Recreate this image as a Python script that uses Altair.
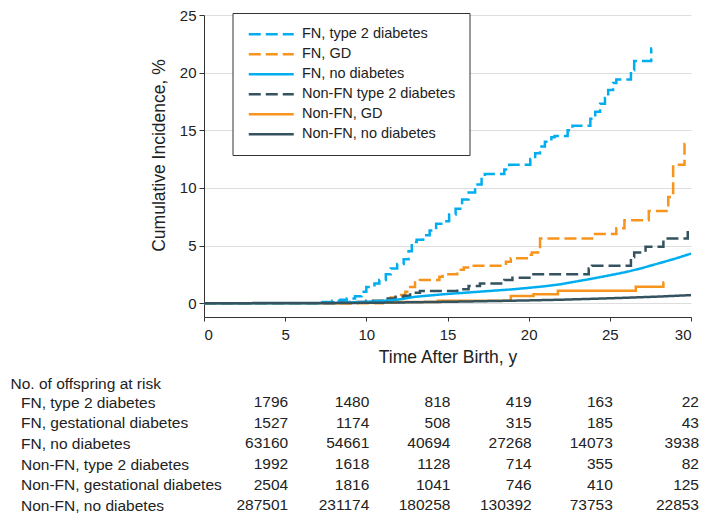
import altair as alt
import pandas as pd

FONT = "Liberation Sans, Arial, sans-serif"

series_names = [
    "FN, type 2 diabetes",
    "FN, GD",
    "FN, no diabetes",
    "Non-FN type 2 diabetes",
    "Non-FN, GD",
    "Non-FN, no diabetes",
]
series_colors = ["#00AEEF", "#F7941D", "#00AEEF", "#35525F", "#F7941D", "#35525F"]
series_dashes = [[12, 5], [12, 5], [1, 0], [12, 5], [1, 0], [1, 0]]

# FN, type 2 diabetes (step curve)
fn_t2_t = [0, 7.3, 7.9, 8.4, 8.8, 9.3, 9.7, 10.0, 10.5, 10.8, 11.2, 11.5, 11.9, 12.3, 12.6, 12.8,
           13.1, 13.5, 13.9, 14.3, 14.8, 15.1, 15.5, 15.9, 16.3, 16.7, 17.1, 17.3, 18.5, 18.8,
           20.1, 20.4, 20.7, 21.0, 21.4, 21.6, 22.4, 22.7, 23.8, 24.1, 24.4, 24.7, 24.9, 25.2,
           25.4, 26.3, 26.5, 27.55, 27.6]
fn_t2_v = [0, 0.1, 0.2, 0.3, 0.4, 0.6, 1.0, 1.4, 1.7, 2.0, 2.5, 3.0, 3.4, 3.8, 4.5, 5.3,
           5.5, 5.9, 6.3, 6.9, 7.1, 7.7, 8.2, 9.0, 9.6, 10.3, 11.0, 11.2, 11.6, 12.0,
           12.5, 13.0, 13.6, 14.0, 14.4, 14.5, 15.0, 15.4, 16.0, 16.6, 17.3, 17.8, 18.5, 19.1,
           19.4, 20.2, 21.0, 22.1, 22.1]

# FN, GD (step curve)
fn_gd_t = [0, 11.0, 11.5, 12.0, 12.4, 12.7, 13.0, 13.3, 14.5, 14.7, 15.6, 16.0, 16.5, 18.6, 18.9,
           20.0, 20.2, 20.7, 23.9, 25.4, 25.9, 27.4, 28.6, 28.9, 29.6, 29.65]
fn_gd_v = [0, 0.2, 0.5, 0.7, 1.0, 1.4, 1.8, 2.0, 2.3, 2.5, 2.9, 3.1, 3.25, 3.6, 3.9,
           4.2, 4.4, 5.6, 6.0, 6.5, 7.2, 8.0, 9.2, 12.0, 13.8, 13.8]

# FN, no diabetes (smooth curve)
fn_no_t = [0, 7, 8, 9, 10, 11, 12, 13, 14, 15, 16, 17, 18, 19, 20, 21, 22, 23, 24, 25, 26, 27, 28, 29, 30]
fn_no_v = [0, 0, 0.02, 0.06, 0.12, 0.2, 0.32, 0.55, 0.68, 0.8, 0.9, 1.0, 1.1, 1.2, 1.33, 1.47, 1.65,
           1.9, 2.15, 2.42, 2.7, 3.05, 3.45, 3.85, 4.3]

# Non-FN type 2 diabetes (step curve)
nfn_t2_t = [0, 8.0, 9.0, 10.0, 11.0, 11.8, 12.3, 12.7, 13.3, 15.6, 16.3, 17.0, 18.5, 19.0, 20.2,
            23.7, 23.9, 26.3, 26.5, 27.2, 28.3, 29.8, 29.85]
nfn_t2_v = [0, 0.05, 0.1, 0.2, 0.4, 0.55, 0.65, 0.9, 1.05, 1.2, 1.5, 1.7, 2.0, 2.2, 2.5,
            3.0, 3.25, 4.0, 4.4, 4.9, 5.6, 6.6, 6.6]

# Non-FN, GD (step curve)
nfn_gd_t = [0, 9.0, 12.0, 14.4, 18.9, 20.3, 21.8, 26.6, 28.3, 28.35]
nfn_gd_v = [0, 0.05, 0.1, 0.2, 0.63, 0.78, 1.07, 1.42, 1.8, 1.8]

# Non-FN, no diabetes (smooth curve)
nfn_no_t = [0, 8, 10, 12, 14, 16, 18, 20, 22, 24, 26, 28, 30]
nfn_no_v = [0, 0.01, 0.03, 0.06, 0.1, 0.14, 0.19, 0.24, 0.3, 0.38, 0.47, 0.57, 0.7]

x_ticks = [0, 5, 10, 15, 20, 25, 30]
y_ticks = [0, 5, 10, 15, 20, 25]

# Risk table
risk_rows = [
    "FN, type 2 diabetes",
    "FN, gestational diabetes",
    "FN, no diabetes",
    "Non-FN, type 2 diabetes",
    "Non-FN, gestational diabetes",
    "Non-FN, no diabetes",
]
risk_times = [5, 10, 15, 20, 25, 30]
risk_fn_t2 = ["1796", "1480", "818", "419", "163", "22"]
risk_fn_gd = ["1527", "1174", "508", "315", "185", "43"]
risk_fn_no = ["63160", "54661", "40694", "27268", "14073", "3938"]
risk_nfn_t2 = ["1992", "1618", "1128", "714", "355", "82"]
risk_nfn_gd = ["2504", "1816", "1041", "746", "410", "125"]
risk_nfn_no = ["287501", "231174", "180258", "130392", "73753", "22853"]


def frame(name, ts, vs):
    return pd.DataFrame({"series": name, "t": ts, "v": vs})


step_df = pd.concat([
    frame(series_names[0], fn_t2_t, fn_t2_v),
    frame(series_names[1], fn_gd_t, fn_gd_v),
    frame(series_names[3], nfn_t2_t, nfn_t2_v),
    frame(series_names[4], nfn_gd_t, nfn_gd_v),
], ignore_index=True)
smooth_df = pd.concat([
    frame(series_names[2], fn_no_t, fn_no_v),
    frame(series_names[5], nfn_no_t, nfn_no_v),
], ignore_index=True)

risk_lists = [risk_fn_t2, risk_fn_gd, risk_fn_no, risk_nfn_t2, risk_nfn_gd, risk_nfn_no]
table_df = pd.DataFrame([
    {"row": r, "t": t, "n": n}
    for r, vals in zip(risk_rows, risk_lists)
    for t, n in zip(risk_times, vals)
])

x_scale = alt.Scale(domain=[0, 30], nice=False, zero=False)
y_scale = alt.Scale(domain=[-1.2, 25], nice=False, zero=False)
color_scale = alt.Scale(domain=series_names, range=series_colors)
dash_scale = alt.Scale(domain=series_names, range=series_dashes)

legend = alt.Legend(
    title=None, orient="none", legendX=28.5, legendY=-2, direction="vertical",
    symbolType="M-1,0H8", symbolSize=100, symbolStrokeWidth=2.5, labelOffset=41,
    labelFontSize=14.5, labelFont=FONT, labelColor="#222", labelLimit=0,
    padding=14, rowPadding=5, strokeColor="#333", fillColor="white",
)

enc = dict(
    x=alt.X("t:Q", scale=x_scale, axis=alt.Axis(
        title="Time After Birth, y", values=x_ticks, grid=False, tickSize=4,
        labelPadding=6, titlePadding=6)),
    y=alt.Y("v:Q", scale=y_scale, axis=alt.Axis(
        title="Cumulative Incidence, %", values=y_ticks, grid=True, tickSize=5,
        labelPadding=3, titlePadding=11, titleY=140)),
    color=alt.Color("series:N", scale=color_scale, legend=legend),
    strokeDash=alt.StrokeDash("series:N", scale=dash_scale, legend=legend),
)

steps = alt.Chart(step_df).mark_line(interpolate="step-after", strokeWidth=2.5).encode(**enc)
smooth = alt.Chart(smooth_df).mark_line(interpolate="linear", strokeWidth=2.5).encode(**enc)

top = alt.layer(steps, smooth).properties(width=487, height=302)

table = alt.Chart(table_df).mark_text(
    align="right", baseline="middle", dx=3, fontSize=15.5, font=FONT, color="#222"
).encode(
    x=alt.X("t:Q", scale=alt.Scale(domain=[0, 25, 30], range=[0, 405.8, 492], nice=False, zero=False),
            axis=None),
    y=alt.Y("row:N", sort=risk_rows, scale=alt.Scale(padding=0.3), axis=alt.Axis(
        title=None, labelAlign="left", labelPadding=183.5, ticks=False, domain=False,
        labelFontSize=15.5, labelFont=FONT, labelColor="#222", labelLimit=0)),
    text="n:N",
).properties(
    width=487, height=115.4,
    title=alt.TitleParams("No. of offspring at risk", anchor="start", frame="bounds",
                          dx=-10, offset=3, fontSize=15.5, font=FONT, fontWeight="normal",
                          color="#222"),
)

chart = alt.vconcat(top, table, spacing=10).properties(
    padding={"left": 2, "top": 0, "right": 0, "bottom": 0}
).configure_view(stroke=None).configure_axis(
    labelFont=FONT, titleFont=FONT, labelFontSize=15, titleFontSize=17.5,
    labelColor="#222", titleColor="#222", titleFontWeight="normal",
    domainColor="#333", tickColor="#333", gridColor="#dddddd",
)

chart.save("out.html", embed_options={"renderer": "svg", "actions": False})
